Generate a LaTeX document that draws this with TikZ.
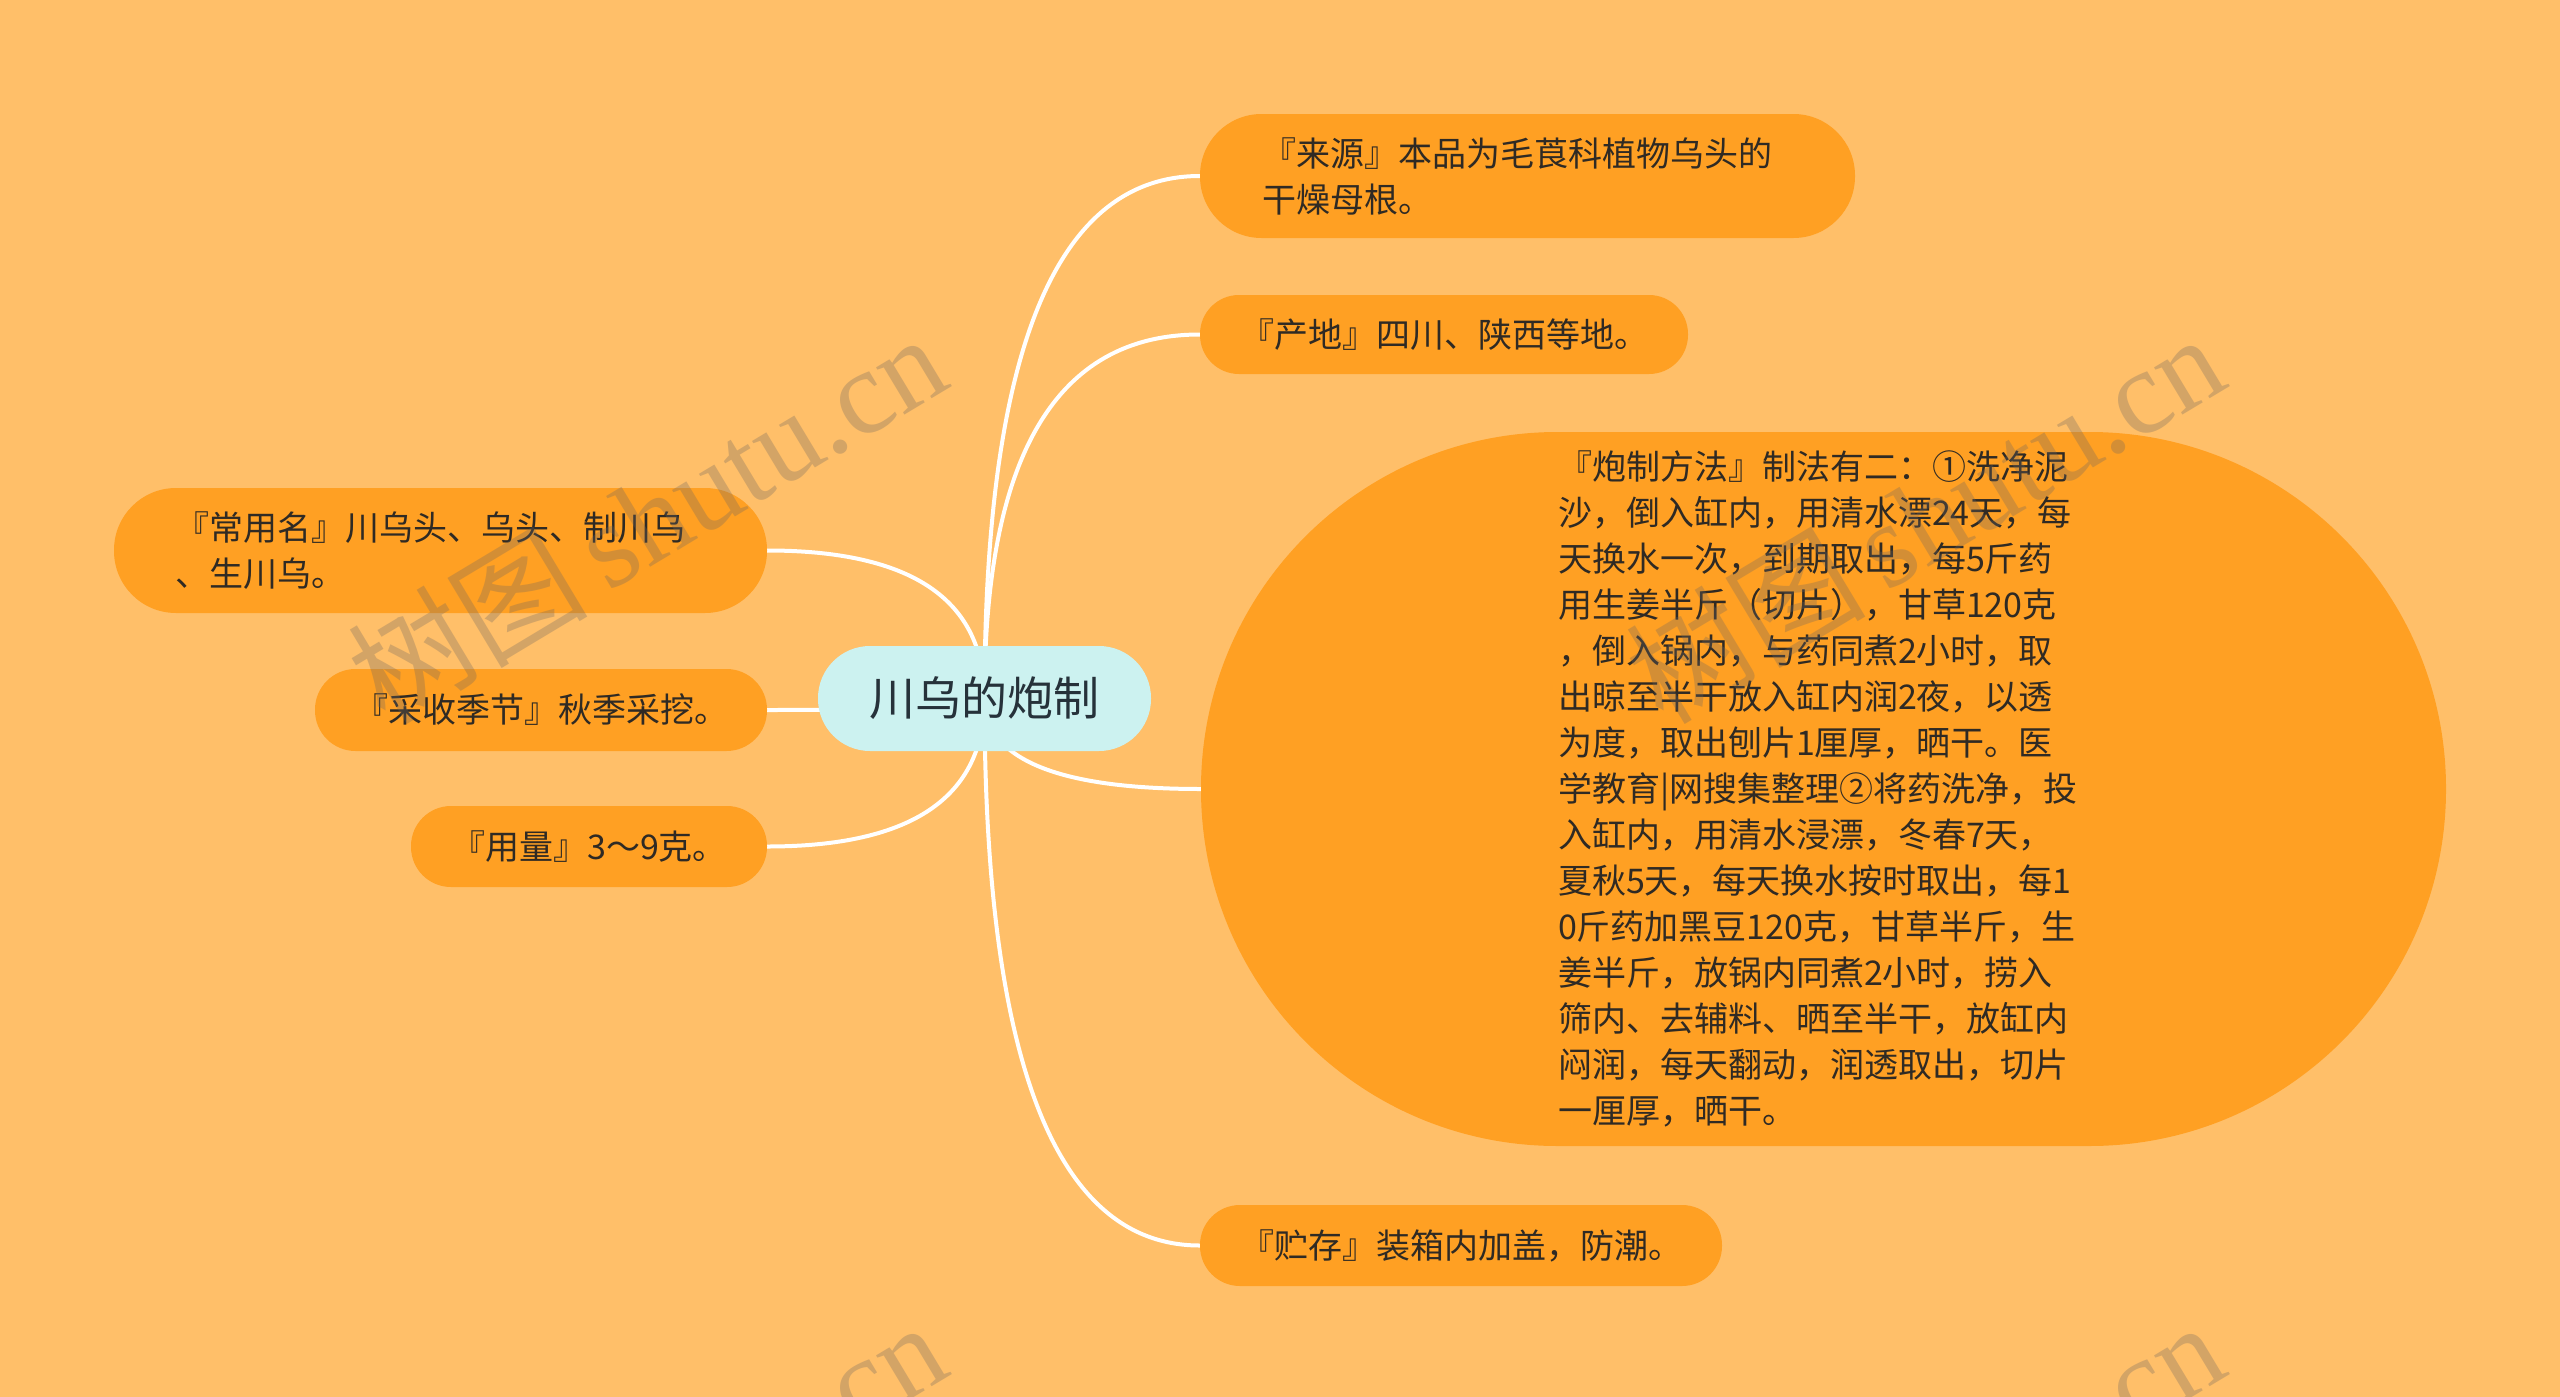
\documentclass[tikz,border=0pt]{standalone}
\usepackage{fontspec}
\setmainfont{Noto Sans CJK SC}
\newfontfamily\wmlatin{Liberation Serif}
\usetikzlibrary{calc,backgrounds}
\definecolor{bgc}{HTML}{FFBF69}
\definecolor{leafc}{HTML}{FFA023}
\definecolor{rootc}{HTML}{CCF2F0}
\definecolor{txtc}{HTML}{2F2A24}
\definecolor{roottxt}{HTML}{26323A}
\definecolor{wmc}{HTML}{6E6660}
\begin{document}
\begin{tikzpicture}[x=1pt,y=-1pt,
  leaf/.style={fill=leafc, inner sep=0pt, text=txtc, font=\fontsize{34}{46}\selectfont},
  root/.style={fill=rootc, inner sep=0pt, text=roottxt, font=\fontsize{46}{56}\selectfont},
  conn/.style={draw=white, line width=4pt},
  wm/.style={text=wmc, opacity=0.3, inner sep=0pt, rotate=31}]
\useasboundingbox (0,0) rectangle (2560,1397);

% central topic
\node[root, rounded corners=52pt, minimum width=333pt, minimum height=105pt] (root) at (984.5,698.5) {川乌的炮制};

% right branches
\node[leaf, rounded corners=61.5pt, minimum width=655pt, minimum height=124pt, text width=531pt, align=left] (laiyuan) at (1527.5,176) {『来源』本品为毛莨科植物乌头的\\干燥母根。};
\node[leaf, rounded corners=39pt, minimum width=488pt, minimum height=79pt, align=center] (chandi) at (1444,334.5) {『产地』四川、陕西等地。};
\node[leaf, rounded corners=356.5pt, minimum width=1245pt, minimum height=714pt, text width=531pt, align=left] (paozhi) at (1823.5,789) {『炮制方法』制法有二：①洗净泥\\沙，倒入缸内，用清水漂24天，每\\天换水一次，到期取出，每5斤药\\用生姜半斤（切片），甘草120克\\，倒入锅内，与药同煮2小时，取\\出晾至半干放入缸内润2夜，以透\\为度，取出刨片1厘厚，晒干。医\\学教育|网搜集整理②将药洗净，投\\入缸内，用清水浸漂，冬春7天，\\夏秋5天，每天换水按时取出，每1\\0斤药加黑豆120克，甘草半斤，生\\姜半斤，放锅内同煮2小时，捞入\\筛内、去辅料、晒至半干，放缸内\\闷润，每天翻动，润透取出，切片\\一厘厚，晒干。};
\node[leaf, rounded corners=40pt, minimum width=522pt, minimum height=81pt, align=center] (zhucun) at (1461,1245.5) {『贮存』装箱内加盖，防潮。};

% left branches
\node[leaf, rounded corners=62pt, minimum width=653pt, minimum height=125pt, text width=531pt, align=left] (changyong) at (440.5,550.5) {『常用名』川乌头、乌头、制川乌\\、生川乌。};
\node[leaf, rounded corners=40.5pt, minimum width=452pt, minimum height=82pt, align=center] (caishou) at (541,710) {『采收季节』秋季采挖。};
\node[leaf, rounded corners=40pt, minimum width=356pt, minimum height=81pt, align=center] (yongliang) at (589,846.5) {『用量』3～9克。};

\begin{scope}[on background layer]
  \fill[bgc] (0,0) rectangle (2560,1397);
  \foreach \n in {laiyuan,chandi,paozhi,zhucun}{
    \coordinate (k-\n) at (root.center |- \n.west);
    \draw[conn] (root.center) .. controls ($(root.center)!2/3!(k-\n)$) and ($(\n.west)!2/3!(k-\n)$) .. (\n.west);
  }
  \foreach \n in {changyong,caishou,yongliang}{
    \coordinate (k-\n) at (root.center |- \n.east);
    \draw[conn] (root.center) .. controls ($(root.center)!2/3!(k-\n)$) and ($(\n.east)!2/3!(k-\n)$) .. (\n.east);
  }
\end{scope}

% watermarks
\begin{scope}
  \clip (0,0) rectangle (2560,1397);
  \foreach \i/\px/\py in {1/646/517, 2/1924/517, 3/646/1505, 4/1924/1505}{
    \node[wm] (wm\i) at (\px,\py) {\fontsize{120}{125}\selectfont 树图\,{\wmlatin shutu.cn}};
  }
\end{scope}
\end{tikzpicture}
\end{document}
